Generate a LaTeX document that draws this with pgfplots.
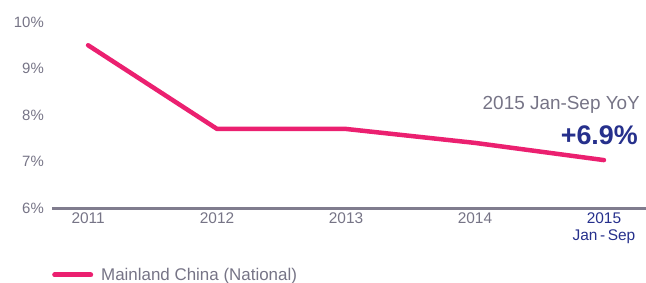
\documentclass[border=0pt]{standalone}
\usepackage{pgfplots}
\pgfplotsset{compat=1.18}
\usepackage{fontspec}
\setmainfont{Liberation Sans}
\definecolor{pinkline}{RGB}{235,32,112}
\definecolor{axgray}{RGB}{128,124,142}
\definecolor{txtgray}{RGB}{118,116,134}
\definecolor{navy}{RGB}{38,48,140}
\begin{document}
\begin{tikzpicture}
\begin{axis}[
  at={(0,0)}, anchor=south west,
  scale only axis, width=594bp, height=186bp,
  xmin=-0.28, xmax=4.326, ymin=6, ymax=10,
  axis x line*=bottom, axis y line*=left,
  x axis line style={axgray, line width=3bp, -},
  y axis line style={draw=none},
  xtick={0,1,2,3,4},
  xticklabels={2011,2012,2013,2014,{\textcolor{navy}{2015}\\\textcolor{navy}{Jan\,-\,Sep}}},
  ytick={6,7,8,9,10},
  yticklabels={6\%,7\%,8\%,9\%,10\%},
  major tick length=0pt,
  tick label style={font=\fontsize{15}{16}\selectfont, text=txtgray, inner sep=0pt},
  xticklabel style={align=center, anchor=north, yshift=-5bp, font=\fontsize{15.5}{17}\selectfont},
  yticklabel style={anchor=east, xshift=-8bp},
  clip=false,
  legend style={at={(rel axis cs:0,-0.36)}, anchor=west, draw=none, fill=none,
    font=\fontsize{17}{18}\selectfont, text=txtgray, inner sep=0pt, column sep=6bp},
  legend cell align=left,
  legend image code/.code={\draw[#1, line width=5bp, line cap=round] (2.5bp,0bp) -- (38.5bp,0bp);},
]
\addplot[pinkline, line width=4.5bp, line cap=round, line join=round] coordinates {
  (0,9.5) (1,7.7) (2,7.7) (3,7.4) (4,7.03)
};
\addlegendentry{Mainland China (National)}
\node[anchor=east, inner sep=0pt, text=txtgray, font=\fontsize{19}{20}\selectfont] at (axis cs:4.28,8.215) {2015 Jan-Sep YoY};
\node[anchor=east, inner sep=0pt, text=navy, font=\fontsize{27}{28}\selectfont\bfseries] at (axis cs:4.264,7.57) {+6.9\%};
\end{axis}
\pgfresetboundingbox
\useasboundingbox (-52bp,-75bp) rectangle (594bp,208bp);
\end{tikzpicture}
\end{document}
